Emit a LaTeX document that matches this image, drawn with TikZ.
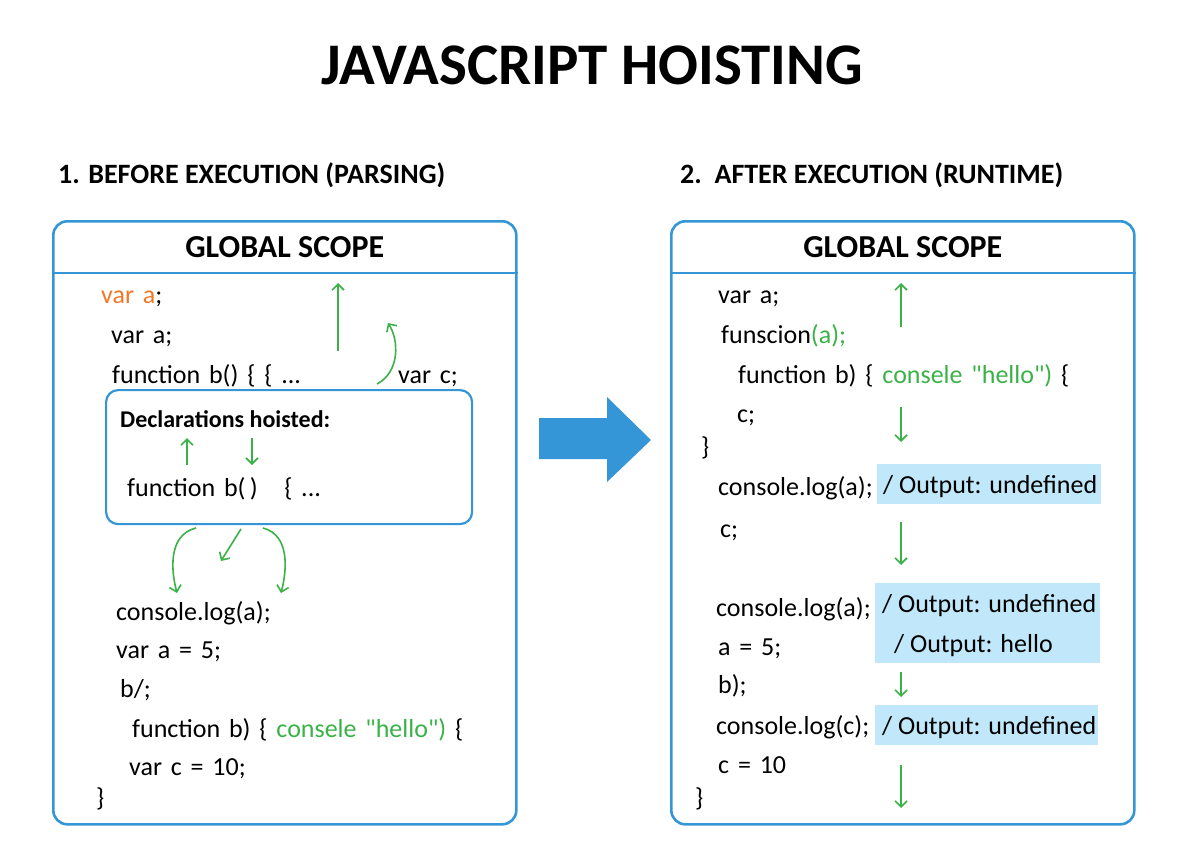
\documentclass[tikz,border=0pt]{standalone}
\usepackage{fontspec}
\setmainfont{Carlito}
\newfontfamily\codefont[WordSpace=1.5]{Carlito}
\usepackage{tikz}
\usetikzlibrary{arrows.meta,positioning,calc}
\usepackage{xcolor}
\definecolor{ScopeBlue} {RGB}{52, 150, 214}
\definecolor{HoistGreen}{RGB}{58, 178,  72}
\definecolor{VarOrange} {RGB}{240,120,  40}
\definecolor{OutBlue}   {RGB}{192,232, 250}

\tikzset{
  scopebox/.style={draw=ScopeBlue,line width=2.6pt,rounded corners=14pt,
                   anchor=north west,inner sep=0pt},
  code/.style={anchor=base west,inner sep=0pt,font=\codefont\fontsize{26}{30}\selectfont},
  outtext/.style={anchor=base west,inner sep=0pt,font=\fontsize{26}{30}\selectfont},
  outbox/.style={fill=OutBlue,anchor=north west,inner sep=0pt},
  hoist/.style={HoistGreen,line width=1.6pt,-{Straight Barb[length=6pt,width=12pt]}},
}

\begin{document}
\begin{tikzpicture}[x=1pt,y=-1pt]
    \useasboundingbox (0,0) rectangle (1184,864);
    % title and headings
    \node[anchor=base,font=\fontsize{59}{64}\selectfont\bfseries] (title) at (592,85) {JAVASCRIPT HOISTING};
    \node[anchor=base west,inner sep=0pt,font=\fontsize{28}{32}\selectfont\bfseries] (headL) at (58,183) {1. BEFORE EXECUTION (PARSING)};
    \node[anchor=base west,inner sep=0pt,font=\fontsize{28}{32}\selectfont\bfseries] (headR) at (680,183) {2.\ \ AFTER EXECUTION (RUNTIME)};
    % the two scopes
    \foreach \s/\x in {L/52,R/670}{
      \node[scopebox,minimum width=463pt,minimum height=603pt] (scope\s) at (\x,220) {};
      \draw[ScopeBlue,line width=2.6pt] ([yshift=-53pt]scope\s.north west) -- ([yshift=-53pt]scope\s.north east);
      \node[anchor=base,font=\fontsize{32}{36}\selectfont\bfseries] (glob\s) at ($(scope\s.north)+(0,-37pt)$) {GLOBAL SCOPE};
    }
    \node[scopebox,line width=2.2pt,rounded corners=12pt,minimum width=366pt,minimum height=134pt] (decl) at (105,389) {};
    \node[anchor=base west,inner sep=0pt,font=\fontsize{24}{28}\selectfont\bfseries] (declT) at (120,427) {Declarations hoisted:};
    % output boxes
    \foreach \n/\x/\y/\w/\h in {1/877/464/224/40, 2/875/583/225/80, 3/875/705/223/40}{
      \node[outbox,minimum width=\w pt,minimum height=\h pt] (out\n) at (\x,\y) {};
    }
    \foreach \n/\x/\y/\t in {
      o1/883/493/{/ Output: undefined},
      o2/882/612/{/ Output: undefined},
      o3/894/652/{/ Output: hello},
      o4/882/734/{/ Output: undefined}
    }{
      \node[outtext] (\n) at (\x,\y) {\t};
    }
    % code lines
    \foreach \n/\x/\y/\t in {
      cL1/101/303/{\textcolor{VarOrange}{var a};},
      cL2/111/343/{var a;},
      cL3/112/383/{function b() \{ \{ ...},
      cL4/398/383/{var c;},
      cL5/127/496/{function b(\,)\ \ \ \{ ...},
      cL6/116/620/{console.log(a);},
      cL7/116/658/{var a = 5;},
      cL8/120/697/{b/;},
      cL9/132/737/{function b) \{ \textcolor{HoistGreen}{consele \textquotedbl hello\textquotedbl)} \{},
      cL10/129/775/{var c = 10;},
      cL11/96/806/{\}},
      cR1/718/303/{var a;},
      cR2/721/343/{funscion\textcolor{HoistGreen}{(a);}},
      cR3/738/383/{function b) \{ \textcolor{HoistGreen}{consele \textquotedbl hello\textquotedbl)} \{},
      cR4/737/422/{c;},
      cR5/701/455/{\}},
      cR6/718/495/{console.log(a);},
      cR7/720/537/{c;},
      cR8/716/616/{console.log(a);},
      cR9/718/655/{a = 5;},
      cR10/718/693/{b);},
      cR11/716/734/{console.log(c);},
      cR12/718/773/{c = 10},
      cR13/695/806/{\}}
    }{
      \node[code] (\n) at (\x,\y) {\t};
    }
    % straight hoisting arrows
    \foreach \n/\xa/\ya/\xb/\yb in {
      upL/338/351/338/283, upD/187/465/187/438, dnD/252/438/252/465,
      midB/241/529/221/561,
      r1/901/327/901/283, r2/901/407/901/442, r3/901/522/901/565,
      r4/901/672/901/697, r5/901/765/901/808
    }{
      \coordinate (\n s) at (\xa,\ya);
      \coordinate (\n e) at (\xb,\yb);
      \draw[hoist] (\n s) -- (\n e);
    }
    % curved hoisting arrows
    \coordinate (cvAs) at (377,384); \coordinate (cvAe) at (388,323);
    \coordinate (cvBs) at (196,528); \coordinate (cvBe) at (177,593);
    \coordinate (cvCs) at (263,528); \coordinate (cvCe) at (281,593);
    \draw[hoist] (cvAs) .. controls (400,372) and (399,340) .. (cvAe);
    \draw[hoist] (cvBs) .. controls (168,535) and (171,570) .. (cvBe);
    \draw[hoist] (cvCs) .. controls (290,535) and (287,570) .. (cvCe);
    % big arrow between the scopes
    \fill[ScopeBlue] (539,418) -- (607,418) -- (607,397) -- (651,440)
      -- (607,482) -- (607,459) -- (539,459) -- cycle;
  \end{tikzpicture}
\end{document}
